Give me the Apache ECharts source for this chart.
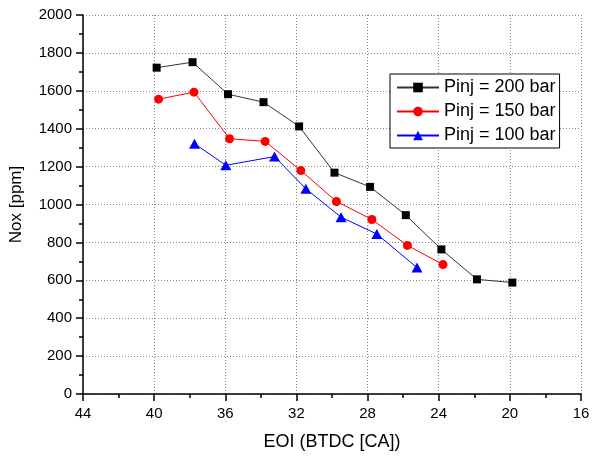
<!DOCTYPE html>
<html>
<head>
<meta charset="utf-8">
<script src="https://cdn.jsdelivr.net/npm/echarts@6/dist/echarts.min.js"></script>
<style>html,body{margin:0;padding:0;background:#fff}#c{width:597px;height:456px}</style>
</head>
<body>
<div id="c"></div>
<script>
var seriesNames = ['Pinj = 200 bar', 'Pinj = 150 bar', 'Pinj = 100 bar'];
var eoi200 = [39.86, 37.84, 35.85, 33.85, 31.85, 29.86, 27.86, 25.85, 23.85, 21.85, 19.86];
var nox200 = [1722, 1751, 1582, 1540, 1412, 1168, 1093, 944, 763, 605, 588];
var eoi150 = [39.75, 37.76, 35.76, 33.76, 31.75, 29.75, 27.76, 25.76, 23.76];
var nox150 = [1556, 1593, 1347, 1333, 1179, 1016, 921, 784, 683];
var eoi100 = [37.73, 35.97, 33.23, 31.47, 29.49, 27.48, 25.22];
var nox100 = [1321, 1207, 1253, 1083, 933, 844, 667];

function pairs(xs, ys) { return xs.map(function (x, i) { return [x, ys[i]]; }); }

var font = 'Arial, "Liberation Sans", sans-serif';
var chart = echarts.init(document.getElementById('c'), null, {renderer: 'canvas'});
chart.setOption({
  animation: false,
  backgroundColor: '#fff',
  textStyle: {fontFamily: font},
  grid: {left: 82, right: 16, top: 15, bottom: 61, containLabel: false},
  legend: {
    left: 390, top: 74, orient: 'vertical',
    borderColor: '#000', borderWidth: 1, backgroundColor: '#fff',
    padding: [4, 4, 3, 6],
    itemWidth: 42, itemHeight: 12, itemGap: 5,
    textStyle: {fontSize: 18, color: '#000', fontFamily: font, lineHeight: 19},
    data: seriesNames
  },
  xAxis: {
    type: 'value', inverse: true, min: 16, max: 44, interval: 4,
    name: 'EOI (BTDC [CA])', nameLocation: 'middle', nameGap: 39,
    nameTextStyle: {fontSize: 18, color: '#000', fontFamily: font},
    axisLine: {show: true, onZero: false, lineStyle: {color: '#000', width: 1.5}},
    axisTick: {show: true, inside: false, length: 7, lineStyle: {color: '#000', width: 1.5}},
    minorTick: {show: true, splitNumber: 2, length: 4, lineStyle: {color: '#000', width: 1.5}},
    axisLabel: {fontSize: 15, color: '#000', margin: 12, fontFamily: font},
    splitLine: {show: true, lineStyle: {color: '#888', type: [1, 2], width: 1}}
  },
  yAxis: {
    type: 'value', min: 0, max: 2000, interval: 200,
    name: 'Nox [ppm]', nameLocation: 'middle', nameGap: 58, nameRotate: 90,
    nameTextStyle: {fontSize: 17, color: '#000', fontFamily: font},
    axisLine: {show: true, onZero: false, lineStyle: {color: '#000', width: 1.5}},
    axisTick: {show: true, inside: false, length: 7, lineStyle: {color: '#000', width: 1.5}},
    minorTick: {show: true, splitNumber: 2, length: 4, lineStyle: {color: '#000', width: 1.5}},
    axisLabel: {fontSize: 15, color: '#000', margin: 11, fontFamily: font,
      formatter: function (v) { return String(v); }},
    splitLine: {show: true, lineStyle: {color: '#888', type: [1, 2], width: 1}}
  },
  series: [
    {
      name: seriesNames[0], type: 'line', data: pairs(eoi200, nox200),
      symbol: 'rect', symbolSize: 8, showAllSymbol: true,
      itemStyle: {color: '#000'}, lineStyle: {color: '#333', width: 1}, z: 3
    },
    {
      name: seriesNames[1], type: 'line', data: pairs(eoi150, nox150),
      symbol: 'circle', symbolSize: 9, showAllSymbol: true,
      itemStyle: {color: '#ff0000'}, lineStyle: {color: '#ff0000', width: 1}, z: 4
    },
    {
      name: seriesNames[2], type: 'line', data: pairs(eoi100, nox100),
      symbol: 'triangle', symbolSize: [11, 10], showAllSymbol: true,
      itemStyle: {color: '#0000ff'}, lineStyle: {color: '#0000ff', width: 1}, z: 5
    }
  ]
});
</script>
</body>
</html>
